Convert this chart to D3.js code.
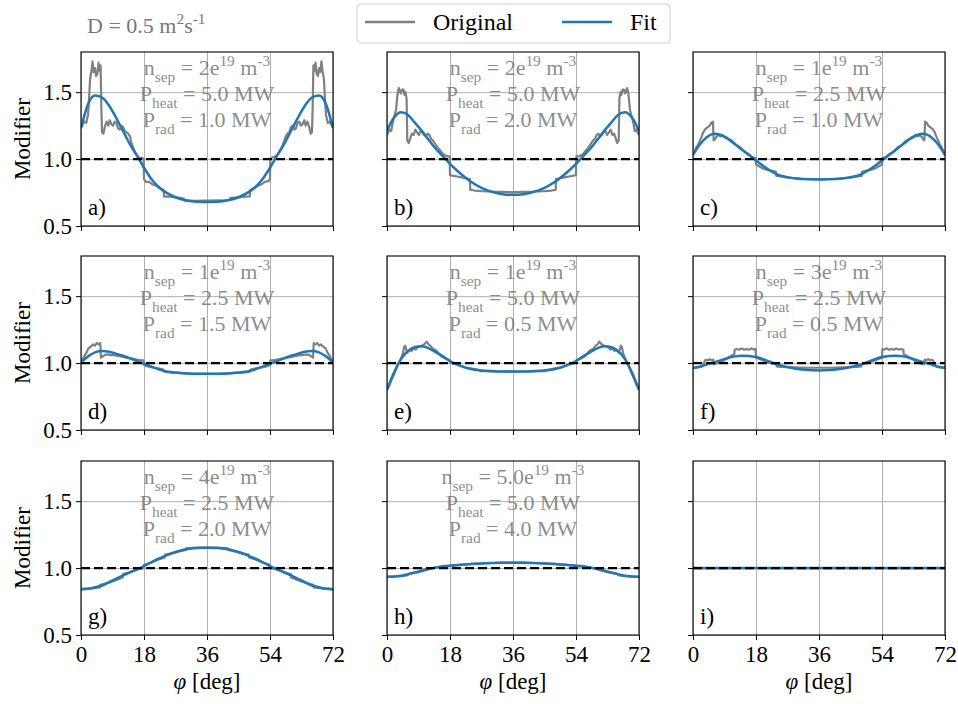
<!DOCTYPE html>
<html>
<head>
<meta charset="utf-8">
<script src="https://cdn.jsdelivr.net/npm/d3@7"></script>
<style>
  body { margin: 0; background: #fff; }
  svg { display: block; font-family: "Liberation Serif", "DejaVu Serif", serif; }
</style>
</head>
<body>
<svg id="chart" width="958" height="704"></svg>
<script>
// ---- data ----
var panelLetters = ['a)', 'b)', 'c)', 'd)', 'e)', 'f)', 'g)', 'h)', 'i)'];
var nSep  = ['2', '2', '1', '1', '1', '3', '4', '5.0', null];
var pHeat = ['5.0', '5.0', '2.5', '2.5', '5.0', '2.5', '2.5', '5.0', null];
var pRad  = ['1.0', '2.0', '1.0', '1.5', '0.5', '0.5', '2.0', '4.0', null];

var xTicks = [0, 18, 36, 54, 72];
var yTicks = [0.5, 1.0, 1.5];

// toroidal angle grid of the fitted curves
var phiGrid = [0, 2, 4, 6, 8, 10, 12, 14, 16, 18, 20, 22, 24, 27, 30, 33, 36,
  39, 42, 45, 48, 50, 52, 54, 56, 58, 60, 62, 64, 66, 68, 70, 72];

var fitA = [1.23, 1.41, 1.475, 1.46, 1.40, 1.31, 1.21, 1.11, 1.025, 0.935, 0.855, 0.795, 0.755, 0.715, 0.692, 0.681, 0.679,
  0.681, 0.692, 0.715, 0.755, 0.795, 0.855, 0.935, 1.025, 1.11, 1.21, 1.31, 1.40, 1.46, 1.475, 1.41, 1.23];
var fitB = [1.21, 1.31, 1.35, 1.33, 1.27, 1.21, 1.14, 1.075, 1.02, 0.965, 0.915, 0.87, 0.83, 0.785, 0.755, 0.738, 0.733,
  0.738, 0.755, 0.785, 0.83, 0.87, 0.915, 0.965, 1.02, 1.075, 1.14, 1.21, 1.27, 1.33, 1.35, 1.31, 1.21];
var fitC = [1.03, 1.11, 1.165, 1.19, 1.18, 1.15, 1.11, 1.07, 1.03, 0.99, 0.95, 0.915, 0.885, 0.865, 0.853, 0.849, 0.848,
  0.849, 0.853, 0.865, 0.885, 0.915, 0.95, 0.99, 1.03, 1.07, 1.11, 1.15, 1.18, 1.19, 1.165, 1.11, 1.03];
var fitD = [1.005, 1.05, 1.08, 1.09, 1.085, 1.07, 1.055, 1.035, 1.015, 0.995, 0.975, 0.955, 0.94, 0.93, 0.923, 0.92, 0.92,
  0.92, 0.923, 0.93, 0.94, 0.955, 0.975, 0.995, 1.015, 1.035, 1.055, 1.07, 1.085, 1.09, 1.08, 1.05, 1.005];
var fitE = [0.80, 0.93, 1.03, 1.09, 1.12, 1.125, 1.11, 1.08, 1.05, 1.015, 0.99, 0.97, 0.955, 0.945, 0.94, 0.937, 0.937,
  0.937, 0.94, 0.945, 0.955, 0.97, 0.99, 1.015, 1.05, 1.08, 1.11, 1.125, 1.12, 1.09, 1.03, 0.93, 0.80];
var fitF = [0.965, 0.972, 0.99, 1.005, 1.022, 1.038, 1.05, 1.055, 1.053, 1.045, 1.03, 1.01, 0.99, 0.97, 0.955, 0.948, 0.945,
  0.948, 0.955, 0.97, 0.99, 1.01, 1.03, 1.045, 1.053, 1.055, 1.05, 1.038, 1.022, 1.005, 0.99, 0.972, 0.965];
var fitG = [0.84, 0.845, 0.857, 0.87, 0.895, 0.92, 0.945, 0.968, 0.991, 1.015, 1.042, 1.068, 1.09, 1.12, 1.14, 1.15, 1.152,
  1.15, 1.14, 1.12, 1.09, 1.068, 1.042, 1.015, 0.991, 0.968, 0.945, 0.92, 0.895, 0.87, 0.857, 0.845, 0.84];
var fitH = [0.935, 0.937, 0.942, 0.955, 0.968, 0.982, 0.995, 1.005, 1.013, 1.018, 1.022, 1.027, 1.03, 1.035, 1.038, 1.04, 1.04,
  1.04, 1.038, 1.035, 1.03, 1.027, 1.022, 1.018, 1.013, 1.005, 0.995, 0.982, 0.968, 0.955, 0.942, 0.937, 0.935];
var fitI = [1, 1, 1, 1, 1, 1, 1, 1, 1, 1, 1, 1, 1, 1, 1, 1, 1,
  1, 1, 1, 1, 1, 1, 1, 1, 1, 1, 1, 1, 1, 1, 1, 1];

// original (simulated) modifier, [phi, value]
var origA = [[0,1.24],[0.5,1.26],[1,1.28],[1.5,1.27],[2,1.33],[2.3,1.45],[2.6,1.6],[3,1.66],[3.3,1.73],[3.6,1.65],[4,1.68],
  [4.3,1.62],[4.7,1.64],[5,1.72],[5.3,1.66],[5.6,1.7],[5.8,1.4],[6,1.2],[6.4,1.19],[6.8,1.24],[7.3,1.28],[7.8,1.25],
  [8.2,1.29],[8.7,1.26],[9.2,1.25],[9.6,1.28],[10.1,1.27],[10.6,1.23],[11.1,1.22],[11.5,1.25],[12,1.24],[12.5,1.21],
  [13,1.2],[13.5,1.19],[14,1.17],[14.4,1.12],[15,1.08],[15.4,1.05],[16,1.03],[16.6,1.01],[17.5,1.01],[17.9,1.0],
  [18,0.85],[18.5,0.83],[19.5,0.83],[20.5,0.81],[21.5,0.8],[22.5,0.785],[23.5,0.77],[23.8,0.72],[25,0.72],[26.5,0.715],
  [28,0.71],[29.3,0.705],[29.5,0.69],[31,0.69],[33,0.688],[35,0.69],[37,0.69],[39,0.692],[41,0.69],[42.5,0.695],
  [42.7,0.71],[44,0.712],[45.5,0.715],[47,0.72],[48.2,0.722],[48.4,0.77],[49.5,0.785],[50.5,0.8],[51.5,0.81],[52.5,0.83],
  [53.5,0.835],[54,0.85],[54.1,1.0],[54.5,1.01],[55.4,1.02],[56,1.03],[56.6,1.05],[57.4,1.09],[58,1.13],[58.5,1.17],
  [59,1.19],[59.5,1.2],[60,1.24],[60.5,1.25],[61,1.22],[61.4,1.23],[61.9,1.27],[62.4,1.28],[62.8,1.25],[63.3,1.26],
  [63.8,1.29],[64.2,1.25],[64.7,1.28],[65.2,1.24],[65.6,1.19],[66,1.2],[66.2,1.4],[66.4,1.7],[66.7,1.66],[67,1.72],
  [67.3,1.64],[67.7,1.62],[68,1.68],[68.4,1.65],[68.7,1.73],[69,1.66],[69.4,1.6],[69.7,1.45],[70,1.33],[70.5,1.27],
  [71,1.28],[71.5,1.26],[72,1.24]];
var origB = [[0,1.18],[0.4,1.2],[0.8,1.22],[1.2,1.21],[1.7,1.28],[2.2,1.33],[2.6,1.37],[2.9,1.46],[3.1,1.5],[3.4,1.53],
  [3.7,1.5],[4,1.49],[4.3,1.52],[4.7,1.52],[5,1.48],[5.3,1.5],[5.6,1.45],[5.8,1.14],[6.2,1.12],[6.6,1.15],[7.1,1.19],
  [7.6,1.18],[8.1,1.22],[8.6,1.2],[9.1,1.18],[9.6,1.21],[10.1,1.2],[10.6,1.18],[11.1,1.17],[11.6,1.19],[12.1,1.18],
  [12.6,1.15],[13.1,1.14],[13.6,1.12],[14.1,1.1],[14.7,1.08],[15.3,1.06],[15.9,1.04],[16.5,1.03],[17.3,1.02],[17.9,1.02],
  [18,0.88],[19,0.875],[20,0.87],[21,0.865],[22,0.86],[23,0.855],[23.7,0.85],[23.8,0.77],[25,0.765],[27,0.76],
  [29,0.758],[31,0.755],[33,0.755],[35,0.753],[37,0.753],[39,0.755],[41,0.755],[43,0.758],[45,0.76],[47,0.765],
  [48.2,0.77],[48.3,0.85],[49,0.855],[50,0.86],[51,0.865],[52,0.87],[53,0.875],[54,0.88],[54.1,1.02],[54.7,1.02],
  [55.5,1.03],[56.1,1.04],[56.7,1.06],[57.3,1.08],[57.9,1.1],[58.4,1.12],[58.9,1.14],[59.4,1.15],[59.9,1.18],[60.4,1.19],
  [60.9,1.17],[61.4,1.18],[61.9,1.2],[62.4,1.21],[62.9,1.18],[63.4,1.2],[63.9,1.22],[64.4,1.18],[64.9,1.19],[65.4,1.15],
  [65.8,1.12],[66.2,1.14],[66.4,1.45],[66.7,1.5],[67,1.48],[67.3,1.52],[67.7,1.52],[68,1.49],[68.3,1.5],[68.6,1.53],
  [68.9,1.5],[69.1,1.46],[69.4,1.37],[69.8,1.33],[70.3,1.28],[70.8,1.21],[71.2,1.22],[71.6,1.2],[72,1.18]];
var origC = [[0,1.04],[0.5,1.06],[1,1.09],[1.5,1.11],[2,1.14],[2.5,1.17],[2.9,1.2],[3.4,1.22],[3.8,1.23],[4.3,1.24],
  [4.8,1.25],[5.2,1.27],[5.7,1.28],[5.9,1.14],[6.3,1.15],[6.8,1.17],[7.3,1.18],[7.8,1.17],[8.3,1.18],[8.8,1.17],
  [9.5,1.165],[10.2,1.15],[11,1.14],[11.8,1.12],[12.6,1.1],[13.4,1.09],[14.2,1.07],[15,1.05],[15.8,1.04],[16.6,1.02],
  [17.4,1.01],[17.9,1.01],[18,0.96],[19,0.945],[20,0.93],[21,0.92],[22,0.915],[23,0.91],[23.7,0.905],[23.8,0.875],
  [25,0.87],[27,0.862],[29,0.858],[31,0.853],[33,0.851],[35,0.85],[37,0.85],[39,0.851],[41,0.853],[43,0.858],[45,0.862],
  [47,0.87],[48.2,0.875],[48.3,0.905],[49,0.91],[50,0.915],[51,0.92],[52,0.93],[53,0.945],[54,0.96],[54.1,1.01],
  [54.6,1.01],[55.4,1.02],[56.2,1.04],[57,1.05],[57.8,1.07],[58.6,1.09],[59.4,1.1],[60.2,1.12],[61,1.14],[61.8,1.15],
  [62.5,1.165],[63.2,1.17],[63.7,1.18],[64.2,1.17],[64.7,1.18],[65.2,1.17],[65.7,1.15],[66.1,1.14],[66.3,1.28],
  [66.8,1.27],[67.2,1.25],[67.7,1.24],[68.2,1.23],[68.6,1.22],[69.1,1.2],[69.5,1.17],[70,1.14],[70.5,1.11],[71,1.09],
  [71.5,1.06],[72,1.04]];
var origD = [[0,1.01],[0.5,1.03],[1.1,1.06],[1.6,1.08],[2.1,1.11],[2.6,1.12],[3.1,1.13],[3.5,1.14],[4,1.13],[4.5,1.15],
  [5,1.14],[5.5,1.15],[5.7,1.04],[6.2,1.05],[6.8,1.06],[7.5,1.065],[8.3,1.06],[9.3,1.06],[10.3,1.055],[11.3,1.05],
  [12.3,1.045],[13.3,1.04],[14.3,1.035],[15.3,1.03],[16.3,1.025],[17.3,1.02],[17.9,1.02],[18,0.985],[19,0.975],[20,0.97],
  [21,0.965],[22,0.96],[23,0.955],[23.6,0.95],[23.7,0.935],[25,0.93],[27,0.927],[29,0.925],[31,0.922],[33,0.92],
  [35,0.92],[37,0.92],[39,0.92],[41,0.922],[43,0.925],[45,0.927],[47,0.93],[48.3,0.935],[48.4,0.95],[49,0.955],
  [50,0.96],[51,0.965],[52,0.97],[53,0.975],[54,0.985],[54.1,1.02],[54.7,1.02],[55.7,1.025],[56.7,1.03],[57.7,1.035],
  [58.7,1.04],[59.7,1.045],[60.7,1.05],[61.7,1.055],[62.7,1.06],[63.7,1.06],[64.5,1.065],[65.2,1.06],[65.8,1.05],
  [66.3,1.04],[66.5,1.15],[67,1.14],[67.5,1.15],[68,1.13],[68.5,1.14],[68.9,1.13],[69.4,1.12],[69.9,1.11],[70.4,1.08],
  [70.9,1.06],[71.5,1.03],[72,1.01]];
var origE = [[0,0.8],[0.6,0.83],[1.2,0.87],[1.7,0.9],[2.2,0.93],[2.7,0.96],[3.2,0.99],[3.6,1.01],[4.1,1.04],[4.5,1.07],
  [4.9,1.12],[5.2,1.13],[5.5,1.1],[5.9,1.08],[6.5,1.1],[7,1.09],[7.6,1.11],[8.2,1.1],[8.8,1.12],[9.4,1.125],[10,1.13],
  [10.6,1.14],[11,1.15],[11.4,1.16],[11.8,1.14],[12.4,1.13],[13,1.11],[13.6,1.1],[14.2,1.09],[14.8,1.07],[15.5,1.05],
  [16.2,1.04],[17,1.03],[17.9,1.02],[18,1.005],[19,0.995],[20,0.99],[21,0.98],[22,0.97],[23,0.965],[24,0.96],[25,0.955],
  [26,0.95],[26.5,0.945],[26.6,0.94],[28,0.94],[30,0.938],[32,0.937],[34,0.936],[36,0.936],[38,0.936],[40,0.937],
  [42,0.938],[44,0.94],[45.4,0.94],[45.5,0.945],[46,0.95],[47,0.955],[48,0.96],[49,0.965],[50,0.97],[51,0.98],[52,0.99],
  [53,0.995],[54,1.005],[54.1,1.02],[55,1.03],[55.8,1.04],[56.5,1.05],[57.2,1.07],[57.8,1.09],[58.4,1.1],[59,1.11],
  [59.6,1.13],[60.2,1.14],[60.6,1.16],[61,1.15],[61.4,1.14],[62,1.13],[62.6,1.125],[63.2,1.12],[63.8,1.1],[64.4,1.11],
  [65,1.09],[65.5,1.1],[66.1,1.08],[66.5,1.1],[66.8,1.13],[67.1,1.12],[67.5,1.07],[67.9,1.04],[68.4,1.01],[68.8,0.99],
  [69.3,0.96],[69.8,0.93],[70.3,0.9],[70.8,0.87],[71.4,0.83],[72,0.8]];
var origF = [[0,0.96],[0.8,0.965],[1.6,0.97],[2.4,0.975],[3,0.99],[3.4,1.02],[3.8,1.025],[4.3,1.02],[4.8,1.03],[5.3,1.02],
  [5.8,1.025],[6,0.99],[6.6,0.995],[7.3,1.0],[8,1.01],[8.8,1.02],[9.6,1.035],[10.4,1.045],[11.2,1.06],[11.8,1.065],
  [11.9,1.1],[12.5,1.105],[13.2,1.1],[13.9,1.11],[14.6,1.1],[15.3,1.105],[16,1.1],[16.8,1.11],[17.5,1.1],[17.9,1.105],
  [18,1.04],[19,1.03],[20,1.02],[21,1.01],[22,1.0],[23,0.995],[23.8,0.99],[23.9,0.975],[25,0.972],[27,0.97],[29,0.968],
  [31,0.966],[33,0.965],[35,0.965],[37,0.965],[39,0.965],[41,0.966],[43,0.968],[45,0.97],[47,0.972],[48.1,0.975],
  [48.2,0.99],[49,0.995],[50,1.0],[51,1.01],[52,1.02],[53,1.03],[54,1.04],[54.1,1.105],[54.5,1.1],[55.2,1.11],[56,1.1],
  [56.7,1.105],[57.4,1.1],[58.1,1.11],[58.8,1.1],[59.5,1.105],[60.1,1.1],[60.2,1.065],[60.8,1.06],[61.6,1.045],
  [62.4,1.035],[63.2,1.02],[64,1.01],[64.7,1.0],[65.4,0.995],[66,0.99],[66.2,1.025],[66.7,1.02],[67.2,1.03],[67.7,1.02],
  [68.2,1.025],[68.6,1.02],[69,0.99],[69.6,0.975],[70.4,0.97],[71.2,0.965],[72,0.96]];
var origG = [[0,0.845],[3,0.848],[5.4,0.855],[5.5,0.875],[8,0.89],[10,0.91],[11.9,0.93],[12,0.955],[14,0.97],[16,0.99],
  [17.9,1.0],[18,1.025],[20,1.04],[22,1.062],[23.9,1.08],[24,1.1],[26,1.11],[28,1.125],[29.9,1.135],[30,1.148],
  [32,1.152],[34,1.153],[36,1.153],[38,1.153],[40,1.152],[41.9,1.148],[42,1.135],[44,1.125],[46,1.11],[47.9,1.1],
  [48,1.08],[50,1.062],[52,1.04],[53.9,1.025],[54,1.0],[56,0.99],[58,0.97],[59.9,0.955],[60,0.93],[62,0.91],[64,0.89],
  [66.4,0.875],[66.5,0.855],[69,0.848],[72,0.845]];
var origH = [[0,0.935],[4,0.94],[6,0.947],[6.1,0.955],[9,0.97],[11.9,0.99],[12,0.995],[15,1.008],[17.9,1.015],[18,1.02],
  [21,1.025],[23.9,1.03],[24,1.032],[27,1.035],[30,1.038],[33,1.04],[36,1.04],[39,1.04],[42,1.038],[45,1.035],[48,1.032],
  [48.1,1.03],[51,1.025],[54,1.02],[54.1,1.015],[57,1.008],[60,0.995],[60.1,0.99],[63,0.97],[65.9,0.955],[66,0.947],
  [68,0.94],[72,0.935]];
var origI = [[0,1.0],[18,1.0],[36,1.0],[54,1.0],[72,1.0]];

var fits = [fitA, fitB, fitC, fitD, fitE, fitF, fitG, fitH, fitI];
var originals = [origA, origB, origC, origD, origE, origF, origG, origH, origI];

// ---- layout ----
var colLeft = [81, 387, 693];
var rowTop = [52, 256, 461];
var pw = 252, ph = 174;
var grey = '#808080', blue = '#1f77b4', gridColor = '#b0b0b0';
var serif = '"Liberation Serif", "DejaVu Serif", serif';

var svg = d3.select('#chart');

// write text pieces with raised / lowered parts; the shift is undone on the next piece
function addSuperSub(text, parts, size) {
  var back = 0;
  parts.forEach(function (p) {
    var t = text.append('tspan').text(p[0]);
    var shift = p[1] === 'sup' ? -0.42 * size : (p[1] === 'sub' ? 0.3 * size : 0);
    if (back + shift !== 0) t.attr('dy', back + shift);
    if (p[1]) t.style('font-size', (size * 0.7) + 'px');
    back = -shift;
  });
}

panelLetters.forEach(function (letter, i) {
  var col = i % 3, row = Math.floor(i / 3);
  var left = colLeft[col], top = rowTop[row];

  var x = d3.scaleLinear().domain([0, 72]).range([left, left + pw]);
  var y = d3.scaleLinear().domain([0.5, 1.8]).range([top + ph, top]);

  var g = svg.append('g');

  g.append('clipPath').attr('id', 'clip' + i)
    .append('rect').attr('x', left).attr('y', top).attr('width', pw).attr('height', ph);

  // grid
  var gx = g.append('g')
    .attr('transform', 'translate(0,' + (top + ph) + ')')
    .call(d3.axisBottom(x).tickValues(xTicks).tickSize(-ph).tickFormat(''));
  gx.select('.domain').remove();
  gx.selectAll('text').remove();
  gx.selectAll('line').attr('stroke', gridColor).attr('stroke-width', 1);
  var gy = g.append('g')
    .attr('transform', 'translate(' + left + ',0)')
    .call(d3.axisLeft(y).tickValues(yTicks).tickSize(-pw).tickFormat(''));
  gy.select('.domain').remove();
  gy.selectAll('text').remove();
  gy.selectAll('line').attr('stroke', gridColor).attr('stroke-width', 1);

  var plot = g.append('g').attr('clip-path', 'url(#clip' + i + ')');

  var origLine = d3.line()
    .x(function (d) { return x(d[0]); })
    .y(function (d) { return y(d[1]); });
  plot.append('path')
    .datum(originals[i])
    .attr('d', origLine)
    .attr('fill', 'none').attr('stroke', grey).attr('stroke-width', 2.2)
    .attr('stroke-linejoin', 'round');

  var fitLine = d3.line()
    .x(function (d, k) { return x(phiGrid[k]); })
    .y(function (d) { return y(d); })
    .curve(d3.curveMonotoneX);
  plot.append('path')
    .datum(fits[i])
    .attr('d', fitLine)
    .attr('fill', 'none').attr('stroke', blue).attr('stroke-width', 2.5);

  plot.append('line')
    .attr('x1', x(0)).attr('x2', x(72)).attr('y1', y(1)).attr('y2', y(1))
    .attr('stroke', '#000').attr('stroke-width', 2.3).attr('stroke-dasharray', '9,4');

  // parameter annotation
  if (nSep[i] !== null) {
    var cx = left + pw / 2, fs = 22;
    var lines = [
      [['n', null], ['sep', 'sub'], [' = ' + nSep[i] + 'e', null], ['19', 'sup'], [' m', null], ['-3', 'sup']],
      [['P', null], ['heat', 'sub'], [' = ' + pHeat[i] + ' MW', null]],
      [['P', null], ['rad', 'sub'], [' = ' + pRad[i] + ' MW', null]]
    ];
    lines.forEach(function (parts, k) {
      var t = g.append('text')
        .attr('x', cx).attr('y', top + 23 + k * 26)
        .attr('text-anchor', 'middle')
        .style('font-size', fs + 'px')
        .attr('fill', '#6e6e6e').attr('fill-opacity', 0.8);
      addSuperSub(t, parts, fs);
    });
  }

  // panel letter
  g.append('text')
    .attr('x', left + 7).attr('y', top + ph - 11)
    .style('font-size', '23px')
    .text(letter);

  // frame
  g.append('rect')
    .attr('x', left).attr('y', top).attr('width', pw).attr('height', ph)
    .attr('fill', 'none').attr('stroke', '#000').attr('stroke-width', 1.1);

  // axes ticks
  var ax = g.append('g')
    .attr('transform', 'translate(' + left + ',0)')
    .call(d3.axisLeft(y).tickValues(yTicks).tickSize(5).tickPadding(4)
      .tickFormat(d3.format('.1f')))
    .attr('font-family', serif).attr('font-size', 23);
  ax.select('.domain').remove();
  if (col !== 0) ax.selectAll('text').remove();
  ax.selectAll('text').attr('fill', '#000');
  ax.selectAll('line').attr('stroke', '#000');

  var bx = g.append('g')
    .attr('transform', 'translate(0,' + (top + ph) + ')')
    .call(d3.axisBottom(x).tickValues(xTicks).tickSize(5).tickPadding(6)
      .tickFormat(d3.format('d')))
    .attr('font-family', serif).attr('font-size', 23);
  bx.select('.domain').remove();
  if (row !== 2) bx.selectAll('text').remove();
  bx.selectAll('text').attr('fill', '#000');
  bx.selectAll('line').attr('stroke', '#000');

  if (col === 0) {
    svg.append('text')
      .attr('transform', 'translate(30,' + (top + ph / 2) + ') rotate(-90)')
      .attr('text-anchor', 'middle')
      .style('font-size', '23px')
      .text('Modifier');
  }
  if (row === 2) {
    var xl = svg.append('text')
      .attr('x', left + pw / 2).attr('y', 689)
      .attr('text-anchor', 'middle')
      .style('font-size', '23px');
    xl.append('tspan').style('font-style', 'italic').text('\u03C6');
    xl.append('tspan').text(' [deg]');
  }
});

// diffusion coefficient note
var dNote = svg.append('text')
  .attr('x', 87).attr('y', 33)
  .style('font-size', '22px')
  .attr('fill', '#777');
addSuperSub(dNote, [['D = 0.5 m', null], ['2', 'sup'], ['s', null], ['-1', 'sup']], 22);

// legend
var legend = svg.append('g');
legend.append('rect')
  .attr('x', 357).attr('y', 4).attr('width', 313).attr('height', 39).attr('rx', 4)
  .attr('fill', '#fff').attr('fill-opacity', 0.8)
  .attr('stroke', '#d0d0d0').attr('stroke-width', 1);
var legendItems = [
  { label: 'Original', color: grey, x: 365 },
  { label: 'Fit', color: blue, x: 562 }
];
legendItems.forEach(function (d) {
  legend.append('line')
    .attr('x1', d.x).attr('x2', d.x + 50).attr('y1', 22).attr('y2', 22)
    .attr('stroke', d.color).attr('stroke-width', 2.5);
  legend.append('text')
    .attr('x', d.x + 68).attr('y', 30)
    .style('font-size', '24px')
    .text(d.label);
});
</script>
</body>
</html>
